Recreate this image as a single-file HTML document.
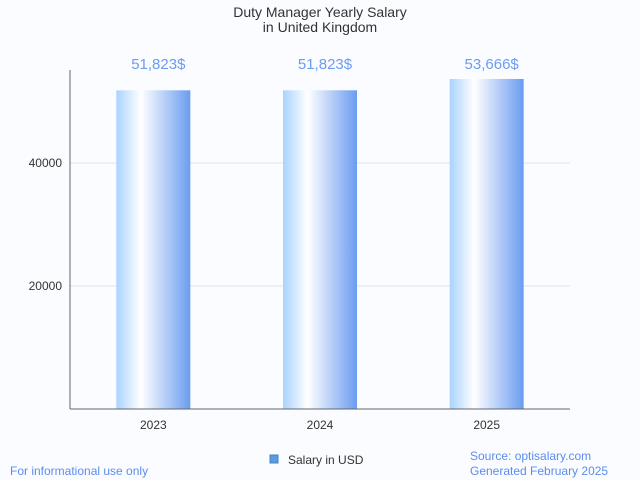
<!DOCTYPE html>
<html><head><meta charset="utf-8"><style>
body{margin:0;background:#fbfcff;font-family:"Liberation Sans",sans-serif;}
svg{display:block}
</style></head><body>
<svg width="640" height="480">
<defs><linearGradient id="g" x1="0" x2="1" y1="0" y2="0">
<stop offset="0" stop-color="#a9d3ff"/><stop offset="0.33" stop-color="#ffffff"/><stop offset="1" stop-color="#6b9cf0"/>
</linearGradient></defs>
<rect width="640" height="480" fill="#fbfcff"/>
<text x="320" y="17" text-anchor="middle" font-size="14" fill="#333">Duty Manager Yearly Salary</text>
<text x="320" y="32" text-anchor="middle" font-size="14" fill="#333">in United Kingdom</text>
<g id="grid"></g><g id="bars"></g>
<line x1="70" y1="70" x2="70" y2="409" stroke="#666"/>
<line x1="70" y1="409" x2="570" y2="409" stroke="#666"/>
<rect x="270" y="455" width="8" height="8" fill="#5b9be0" stroke="#4a7fc0"/>
<text x="288" y="464" font-size="12" fill="#333">Salary in USD</text>
<text x="10" y="475" font-size="12" fill="#5b8def">For informational use only</text>
<text x="470" y="460" font-size="12" fill="#5b8def">Source: optisalary.com</text>
<text x="470" y="475" font-size="12" fill="#5b8def">Generated February 2025</text>
</svg>
<script>
const categories=["2023","2024","2025"];
const values=[51823,51823,53666];
const labels=["51,823$","51,823$","53,666$"];
const ticks=[20000,40000];
const NS="http://www.w3.org/2000/svg";
const y=v=>409-v*(123/20000);
const x=i=>70+(i+0.5)*(500/3);
function mk(t,a,p,txt){const e=document.createElementNS(NS,t);for(const k in a)e.setAttribute(k,a[k]);if(txt!=null)e.textContent=txt;p.appendChild(e);return e;}
const grid=document.getElementById('grid'),bars=document.getElementById('bars');
ticks.forEach(t=>{
const l=mk('line',{x1:70,x2:570,y1:y(t),y2:y(t),stroke:'#e2e2e2'},grid);


const tx=mk('text',{x:62,y:y(t)+4,'text-anchor':'end','font-size':12,fill:'#333'},grid,String(t));


});
categories.forEach((c,i)=>{
const r=mk('rect',{x:x(i)-37,y:y(values[i]),width:74,height:409-y(values[i]),fill:'url(#g)'},bars);


const v=mk('text',{x:x(i)+5,y:69,'text-anchor':'middle','font-size':15,fill:'#6b9cf0'},bars,labels[i]);


const cl=mk('text',{x:x(i),y:429,'text-anchor':'middle','font-size':12,fill:'#333'},bars,c);


});
</script>
</body></html>
